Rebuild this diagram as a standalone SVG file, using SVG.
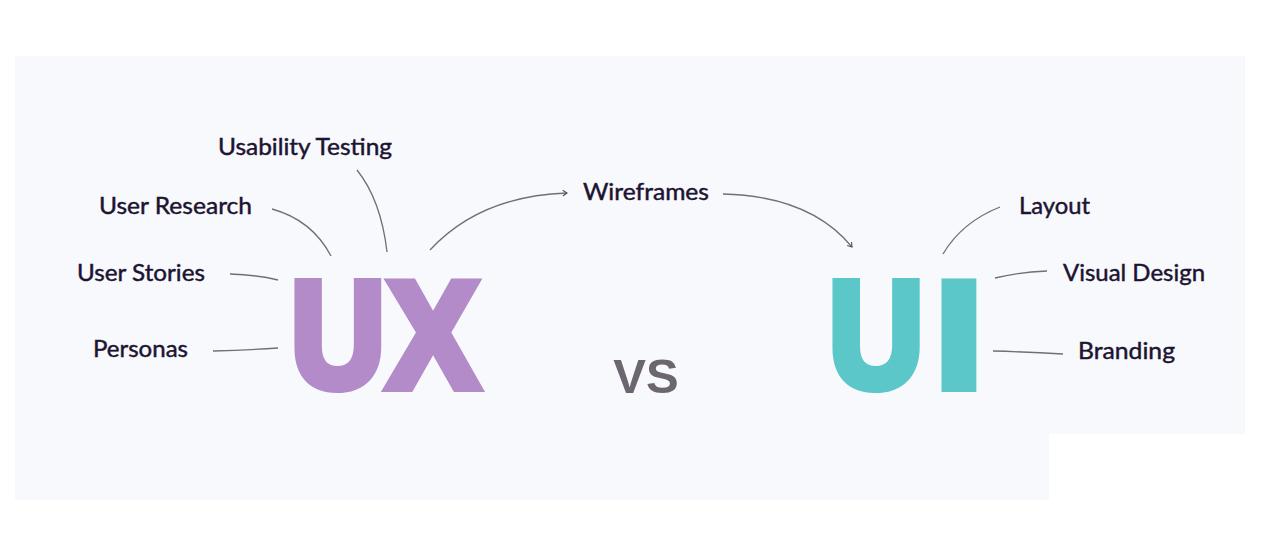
<svg xmlns="http://www.w3.org/2000/svg" width="1280" height="548" viewBox="0 0 1280 548">
<defs>
<style>
.lbl{font-family:Lato,"Open Sans","Liberation Sans",sans-serif;font-size:23px;fill:#1c1430;stroke:#1c1430;stroke-width:0.45;}
.big{font-family:"Liberation Sans",Arial,sans-serif;font-weight:bold;font-size:150px;text-anchor:middle;stroke-width:10;stroke-linejoin:miter;}
.ux{fill:#b38bc9;stroke:#b38bc9;}
.ui{fill:#5cc7c9;stroke:#5cc7c9;}
.con{fill:none;stroke:#6f6f78;stroke-width:1.3;}
</style>
<marker id="arr" viewBox="0 0 10 10" refX="8" refY="5" markerWidth="7" markerHeight="7" orient="auto" markerUnits="userSpaceOnUse">
<path d="M2,1 L8,5 L2,9" fill="none" stroke="#555" stroke-width="1.6"/>
</marker>
</defs>
<rect x="0" y="0" width="1280" height="548" fill="#ffffff"/>
<path d="M15,56 H1245 V434 H1049 V500 H15 Z" fill="#f8f9fd"/>

<g id="connectors">
<path class="con" d="M357,170 Q381,200 387,252"/>
<path class="con" d="M272,209 Q312,220 331,256"/>
<path class="con" d="M230,274 Q258,275 278,280"/>
<path class="con" d="M213,351 Q250,350 278,348"/>
<path class="con" d="M430,250 Q480,196 567,193" marker-end="url(#arr)"/>
<path class="con" d="M723,194 Q810,196 852,247" marker-end="url(#arr)"/>
<path class="con" d="M1000,207 Q962,222 943,254"/>
<path class="con" d="M995,278 Q1020,272 1047,271"/>
<path class="con" d="M993,351 Q1030,352 1063,354"/>
</g>

<g id="usability-testing"><text class="lbl" x="218" y="155" textLength="174" lengthAdjust="spacingAndGlyphs">Usability Testing</text></g>
<g id="user-research"><text class="lbl" x="99" y="214" textLength="153" lengthAdjust="spacingAndGlyphs">User Research</text></g>
<g id="user-stories"><text class="lbl" x="77" y="281" textLength="128" lengthAdjust="spacingAndGlyphs">User Stories</text></g>
<g id="personas"><text class="lbl" x="93" y="357" textLength="95" lengthAdjust="spacingAndGlyphs">Personas</text></g>
<g id="wireframes"><text class="lbl" x="583" y="200" textLength="126" lengthAdjust="spacingAndGlyphs">Wireframes</text></g>
<g id="layout"><text class="lbl" x="1019" y="214" textLength="71" lengthAdjust="spacingAndGlyphs">Layout</text></g>
<g id="visual-design"><text class="lbl" x="1063" y="281" textLength="142" lengthAdjust="spacingAndGlyphs">Visual Design</text></g>
<g id="branding"><text class="lbl" x="1078" y="359" textLength="97" lengthAdjust="spacingAndGlyphs">Branding</text></g>

<g id="ux">
<text class="big ux" transform="translate(338,387) scale(0.866,1)" x="0" y="0">U</text>
<text class="big ux" transform="translate(433,387) scale(0.9,1)" x="0" y="0">X</text>
</g>
<g id="vs">
<text x="646" y="393" text-anchor="middle" style="font-family:'Liberation Sans',Arial,sans-serif;font-weight:bold;font-size:49px;fill:#6c6670;">VS</text>
</g>
<g id="ui">
<text class="big ui" transform="translate(876,387) scale(0.87,1)" x="0" y="0">U</text>
<text class="big ui" transform="translate(959,387) scale(1.1,1)" x="0" y="0">I</text>
</g>
</svg>
